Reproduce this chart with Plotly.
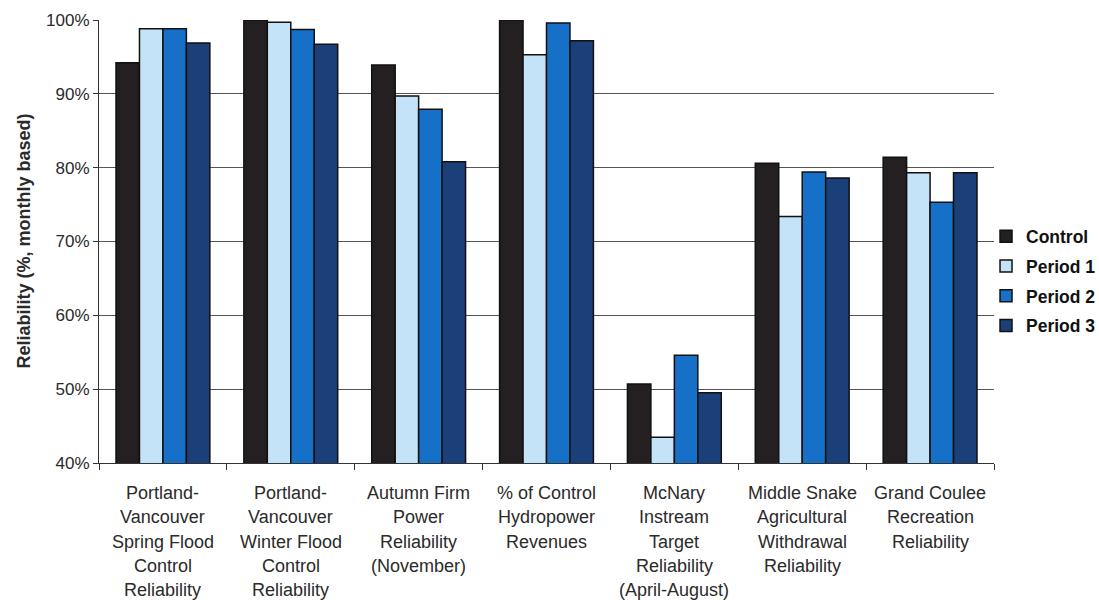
import plotly.graph_objects as go

# Categories (one label line per list item)
categories = [
    ["Portland-", "Vancouver", "Spring Flood", "Control", "Reliability"],
    ["Portland-", "Vancouver", "Winter Flood", "Control", "Reliability"],
    ["Autumn Firm", "Power", "Reliability", "(November)"],
    ["% of Control", "Hydropower", "Revenues"],
    ["McNary", "Instream", "Target", "Reliability", "(April-August)"],
    ["Middle Snake", "Agricultural", "Withdrawal", "Reliability"],
    ["Grand Coulee", "Recreation", "Reliability"],
]
cat_keys = ["c%d" % i for i in range(len(categories))]

series_names = ["Control", "Period 1", "Period 2", "Period 3"]
control = [94.2, 100.0, 93.9, 100.0, 50.7, 80.6, 81.4]
period1 = [98.8, 99.7, 89.7, 95.3, 43.5, 73.4, 79.3]
period2 = [98.8, 98.7, 87.9, 99.6, 54.6, 79.4, 75.3]
period3 = [96.9, 96.7, 80.8, 97.2, 49.5, 78.6, 79.3]
series_values = [control, period1, period2, period3]
series_colors = ["#241f21", "#c4e2f8", "#1670c8", "#1b3f78"]

y_ticks = [40, 50, 60, 70, 80, 90, 100]

FONT = "Liberation Sans, Arial"
TEXT_COLOR = "#2a2a2a"

fig = go.Figure()
for name, vals, col in zip(series_names, series_values, series_colors):
    fig.add_trace(go.Bar(
        x=cat_keys, y=vals, name="<b>%s</b>" % name, legendgroup=name,
        marker=dict(color=col, line=dict(color="#111111", width=1.5)),
    ))

# multi-line category labels under the axis
annotations = []
for key, lines in zip(cat_keys, categories):
    for i, line in enumerate(lines):
        annotations.append(dict(
            x=key, xref="x", y=0, yref="paper", yanchor="middle",
            yshift=-30 - 24.3 * i, text=line, showarrow=False,
            font=dict(family=FONT, size=18, color=TEXT_COLOR),
        ))

annotations.append(dict(
    x=0, xref="paper", xshift=-88, y=0.5, yref="paper", textangle=-90,
    text="<b>Reliability (%, monthly based)</b>", showarrow=False,
    font=dict(family=FONT, size=18, color=TEXT_COLOR),
))

fig.update_layout(
    width=1099, height=600,
    margin=dict(l=99, r=105, t=20, b=137, autoexpand=False),
    paper_bgcolor="white", plot_bgcolor="white",
    barmode="group", bargap=0.266, bargroupgap=0,
    showlegend=True,
    legend=dict(
        xref="container", yref="container",
        x=0.8972, xanchor="left", y=0.532, yanchor="middle",
        font=dict(family=FONT, size=17.5, color="#111111"),
        tracegroupgap=4, itemwidth=30,
        bgcolor="rgba(0,0,0,0)",
    ),
    annotations=annotations,
    font=dict(family=FONT, size=17, color=TEXT_COLOR),
)

fig.update_xaxes(
    type="category", showticklabels=False, ticks="outside", tickson="boundaries",
    ticklen=6, tickcolor="#333333", showline=True, linecolor="#333333", linewidth=1,
    showgrid=False,
)
fig.update_yaxes(
    range=[40, 100], tickvals=y_ticks, ticktext=["%d%%" % v for v in y_ticks],
    ticks="outside", ticklen=5, tickcolor="#333333",
    showline=True, linecolor="#333333", linewidth=1,
    showgrid=True, gridcolor="#555555", gridwidth=1,
    tickfont=dict(family=FONT, size=17, color=TEXT_COLOR),
)

fig.write_html("out.html")
